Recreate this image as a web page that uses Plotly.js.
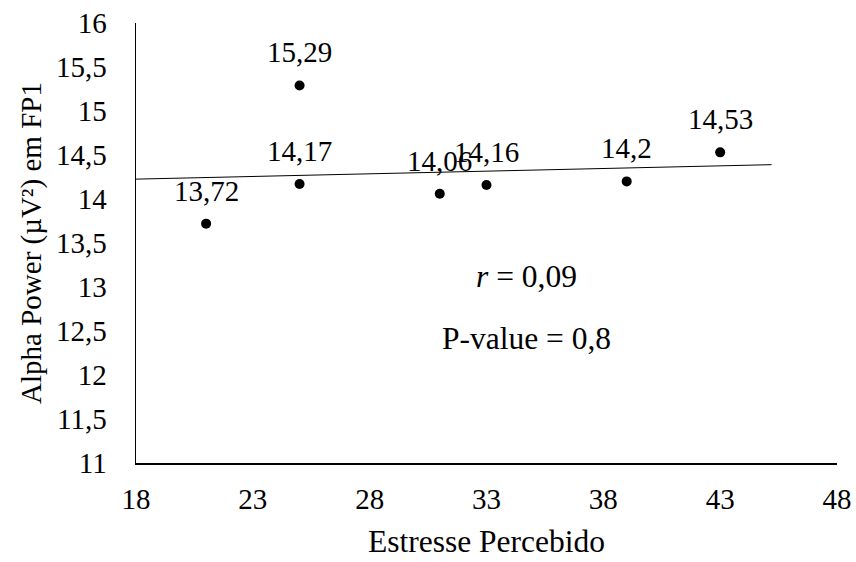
<!DOCTYPE html>
<html>
<head>
<meta charset="utf-8">
<script src="https://cdn.plot.ly/plotly-3.0.1.min.js"></script>
<style>html,body{margin:0;padding:0;background:#fff;}#chart{width:856px;height:562px;}</style>
</head>
<body>
<div id="chart"></div>
<script>
// Data
var stress = [21, 25, 25, 31, 33, 39, 43];
var alphaPower = [13.72, 15.29, 14.17, 14.06, 14.16, 14.2, 14.53];
var trendXRange = [18, 45.2];
var xTicks = [18, 23, 28, 33, 38, 43, 48];
var yTicks = [11, 11.5, 12, 12.5, 13, 13.5, 14, 14.5, 15, 15.5, 16];
var statTexts = ['<i>r</i> = 0,09', 'P-value = 0,8'];
var statX = [34.7, 34.7];
var statY = [13.12, 12.42];

// least-squares trendline from the data
var n = stress.length;
var mx = stress.reduce(function(a,b){return a+b;},0)/n;
var my = alphaPower.reduce(function(a,b){return a+b;},0)/n;
var sxy = 0, sxx = 0;
for (var i=0;i<n;i++){ sxy += (stress[i]-mx)*(alphaPower[i]-my); sxx += (stress[i]-mx)*(stress[i]-mx); }
var slope = sxy/sxx, intercept = my - slope*mx;
var trendY = trendXRange.map(function(x){return intercept + slope*x;});

var FONT = "Liberation Serif";
var FS = 29;
var FS_BIG = 31.5;

var labels = alphaPower.map(function(v){return String(v).replace('.', ',');});

var traces = [
  {
    x: trendXRange, y: trendY, mode: 'lines', type: 'scatter',
    line: {color: '#000', width: 1}, hoverinfo: 'skip', showlegend: false
  },
  {
    x: stress, y: alphaPower, mode: 'markers', type: 'scatter',
    marker: {color: '#000', size: 10},
    showlegend: false, cliponaxis: false
  }
];

var annotations = statTexts.map(function(t, i){
  return {x: statX[i], y: statY[i], xref: 'x', yref: 'y', text: t, showarrow: false,
          font: {family: FONT, size: FS_BIG, color: '#000'}};
});
stress.forEach(function(x, i){
  annotations.push({x: x, y: alphaPower[i], xref: 'x', yref: 'y', text: labels[i],
    showarrow: false, yanchor: 'bottom', yshift: 15,
    font: {family: FONT, size: FS, color: '#000'}});
});

var layout = {
  width: 856, height: 562,
  margin: {l: 136, r: 19, t: 23, b: 99},
  paper_bgcolor: '#fff', plot_bgcolor: '#fff',
  separators: ',.',
  showlegend: false,
  font: {family: FONT, size: FS, color: '#000'},
  xaxis: {
    range: [18, 48], tickmode: 'array', tickvals: xTicks,
    showgrid: false, zeroline: false, showline: true, linecolor: '#000', linewidth: 1.5,
    ticks: '', ticklabelstandoff: 10,
    tickfont: {family: FONT, size: FS, color: '#000'},
    title: {text: 'Estresse Percebido', font: {family: FONT, size: FS_BIG, color: '#000'}, standoff: 15}
  },
  yaxis: {
    range: [11, 16], tickmode: 'array', tickvals: yTicks,
    showgrid: false, zeroline: false, showline: true, linecolor: '#000', linewidth: 1.5,
    ticks: '', ticklabelstandoff: 22,
    tickfont: {family: FONT, size: FS, color: '#000'},
    title: {text: 'Alpha Power (µV²) em FP1', font: {family: FONT, size: FS, color: '#000'}, standoff: 6}
  },
  annotations: annotations
};

Plotly.newPlot('chart', traces, layout, {displayModeBar: false, staticPlot: true});
</script>
</body>
</html>
